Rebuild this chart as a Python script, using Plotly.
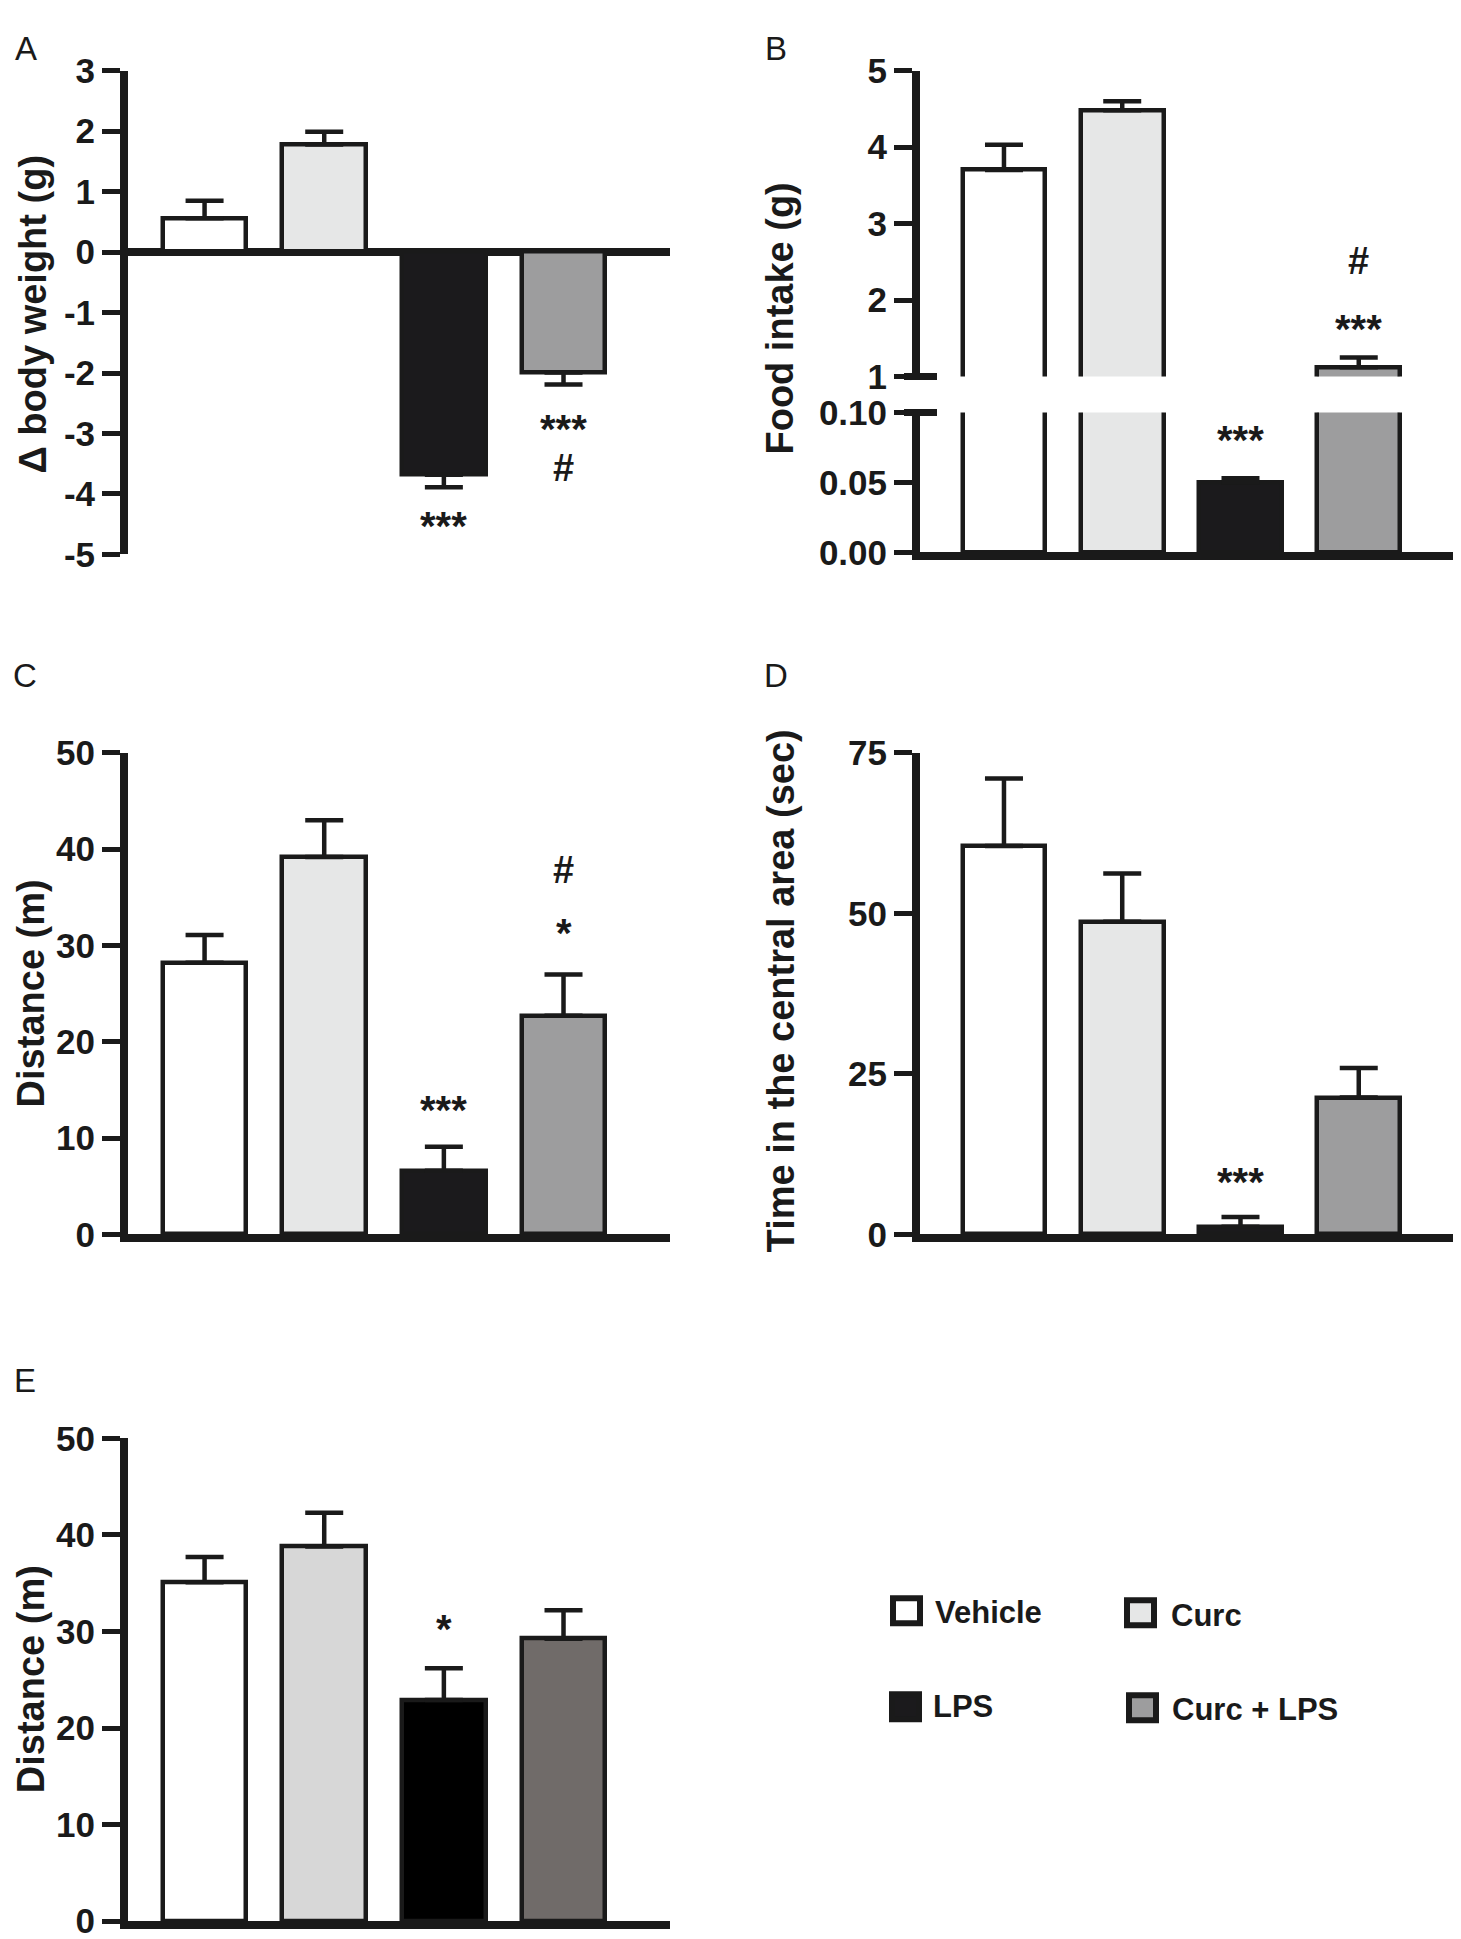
import plotly.graph_objects as go

# groups and values (mean, error bar = SEM)
groups = ["Vehicle", "Curc", "LPS", "Curc + LPS"]

weight_mean = [0.56, 1.78, -3.68, -1.99]
weight_sem = [0.29, 0.21, 0.21, 0.20]
weight_ticks = [-5, -4, -3, -2, -1, 0, 1, 2, 3]

food_mean = [3.70, 4.48, 0.050, 1.12]
food_sem = [0.33, 0.12, 0.003, 0.13]

dist_c_mean = [28.2, 39.2, 6.6, 22.7]
dist_c_sem = [2.9, 3.8, 2.5, 4.3]

time_mean = [60.5, 48.7, 1.2, 21.3]
time_sem = [10.5, 7.5, 1.5, 4.6]

dist_e_mean = [35.1, 38.8, 22.9, 29.25]
dist_e_sem = [2.6, 3.5, 3.3, 2.95]

# significance marks: (group index, text)
weight_sig = [(2, "***"), (3, "***"), (3, "#")]
food_sig = [(2, "***"), (3, "***"), (3, "#")]
dist_c_sig = [(2, "***"), (3, "*"), (3, "#")]
time_sig = [(2, "***")]
dist_e_sig = [(2, "*")]

W, H = 1461, 1939
INK = "#1a1a1a"
colors_ad = ["#ffffff", "#e6e7e7", "#1b1a1c", "#9d9d9e"]
colors_e = ["#ffffff", "#d7d7d7", "#000000", "#706b69"]
TICK_FONT = "Liberation Sans Narrow, Arial Narrow, Liberation Sans, Arial"
TEXT_FONT = "Liberation Sans, Arial"


def fx(px):
    return px / W


def fy(py):
    # the page shot comes out a little squeezed and pushed down; undo that
    py = 1.0203 * py - 30
    return 1 - py / H


def bar(mean, sem, colors, xa, ya):
    up = [s if m >= 0 else 0 for m, s in zip(mean, sem)]
    down = [0 if m >= 0 else s for m, s in zip(mean, sem)]
    return go.Bar(
        x=groups, y=mean, width=0.7, xaxis=xa, yaxis=ya,
        marker=dict(color=colors, line=dict(color=INK, width=4.5)),
        error_y=dict(type="data", symmetric=False, array=up, arrayminus=down,
                     color=INK, thickness=4.5, width=19),
        showlegend=False, hoverinfo="skip",
    )


fig = go.Figure()
fig.add_trace(bar(weight_mean, weight_sem, colors_ad, "x", "y"))
fig.add_trace(bar(food_mean, food_sem, colors_ad, "x2", "y2"))
fig.add_trace(bar(food_mean, food_sem, colors_ad, "x2", "y3"))
fig.add_trace(bar(dist_c_mean, dist_c_sem, colors_ad, "x3", "y4"))
fig.add_trace(bar(time_mean, time_sem, colors_ad, "x4", "y5"))
fig.add_trace(bar(dist_e_mean, dist_e_sem, colors_e, "x5", "y6"))

ystyle = dict(showline=True, linewidth=8, linecolor=INK, ticks="outside",
              ticklen=18, tickwidth=4.5, tickcolor=INK, showgrid=False,
              zeroline=False, fixedrange=True,
              tickfont=dict(family=TICK_FONT, size=35, color=INK, weight="bold"))
xstyle = dict(showline=True, linewidth=8, linecolor=INK, ticks="",
              showticklabels=False, showgrid=False, zeroline=False,
              fixedrange=True)

left = [fx(120), fx(662)]
right = [fx(912), fx(1456)]

fig.update_layout(
    width=W, height=H, margin=dict(l=0, r=0, t=0, b=0),
    paper_bgcolor="white", plot_bgcolor="white", bargap=0,
    xaxis=dict(xstyle, domain=left, range=[-0.64, 3.89], anchor="y", showline=False),
    yaxis=dict(ystyle, domain=[fy(556), fy(72)], range=[-5, 3], anchor="x",
               tickvals=weight_ticks, ticktext=[str(v) for v in weight_ticks],
               zeroline=True, zerolinewidth=8, zerolinecolor=INK),
    xaxis2=dict(xstyle, domain=right, range=[-0.71, 3.89], anchor="y3"),
    yaxis2=dict(ystyle, domain=[fy(378), fy(72)], range=[1, 5], dtick=1, anchor="x2"),
    yaxis3=dict(ystyle, domain=[fy(554), fy(414)], range=[0, 0.1], dtick=0.05,
                tickformat=".2f", anchor="x2"),
    xaxis3=dict(xstyle, domain=left, range=[-0.64, 3.89], anchor="y4"),
    yaxis4=dict(ystyle, domain=[fy(1236), fy(754.5)], range=[0, 50], dtick=10, anchor="x3"),
    xaxis4=dict(xstyle, domain=right, range=[-0.71, 3.89], anchor="y5"),
    yaxis5=dict(ystyle, domain=[fy(1236), fy(754.5)], range=[0, 75], dtick=25, anchor="x4"),
    xaxis5=dict(xstyle, domain=left, range=[-0.64, 3.89], anchor="y6"),
    yaxis6=dict(ystyle, domain=[fy(1923), fy(1440)], range=[0, 50], dtick=10, anchor="x5"),
)

annotations = []

# panel letters (A and B pinned to the top edge)
for letter, px, py in [("A", 18, None), ("B", 768, None), ("C", 17, 677),
                       ("D", 768, 677), ("E", 17, 1382)]:
    annotations.append(dict(text=letter, x=fx(px), y=1 if py is None else fy(py),
                            xref="paper", yref="paper", showarrow=False,
                            xanchor="center", yanchor="top" if py is None else "middle",
                            font=dict(family=TEXT_FONT, size=33, color=INK)))

# axis titles
for title, px, py in [("Δ body weight (g)", 25, 316), ("Food intake (g)", 772, 320),
                      ("Distance (m)", 23, 995), ("Time in the central area (sec)", 773, 993),
                      ("Distance (m)", 23, 1681)]:
    annotations.append(dict(text=title, x=fx(px), y=fy(py), xref="paper", yref="paper",
                            showarrow=False, textangle=-90, xanchor="center", yanchor="middle",
                            font=dict(family=TEXT_FONT, size=38, color=INK, weight="bold")))


def sig_marks(marks, mean, sem, xa, ya, shifts):
    for (g, txt), s in zip(marks, shifts):
        m = mean[g]
        end = m + sem[g] if m >= 0 else m - sem[g]
        annotations.append(dict(text=txt, x=groups[g], y=end, xref=xa, yref=ya,
                                yshift=s, showarrow=False, xanchor="center",
                                yanchor="middle",
                                font=dict(family=TEXT_FONT, size=40 if "*" in txt else 38,
                                          color=INK, weight="bold")))


sig_marks(weight_sig, weight_mean, weight_sem, "x", "y", [-39, -44, -83])
sig_marks(food_sig[:1], food_mean, food_sem, "x2", "y3", [38])
sig_marks(food_sig[1:], food_mean, food_sem, "x2", "y2", [28, 96])
sig_marks(dist_c_sig, dist_c_mean, dist_c_sem, "x3", "y4", [37, 41, 104])
sig_marks(time_sig, time_mean, time_sem, "x4", "y5", [35])
sig_marks(dist_e_sig, dist_e_mean, dist_e_sem, "x5", "y6", [39])

# legend
shapes = []
legend_items = [(0, 885, 1600, 925, 1614), (1, 1119, 1602, 1161, 1617),
                (2, 884, 1696, 923, 1708), (3, 1121, 1697, 1162, 1711)]
for g, sx, sy, tx, ty in legend_items:
    shapes.append(dict(type="rect", xref="paper", yref="paper",
                       x0=fx(sx), x1=fx(sx + 27), y0=fy(sy + 25), y1=fy(sy),
                       fillcolor=colors_ad[g], line=dict(color=INK, width=6)))
    annotations.append(dict(text=groups[g], x=fx(tx), y=fy(ty), xref="paper", yref="paper",
                            showarrow=False, xanchor="left", yanchor="middle",
                            font=dict(family=TEXT_FONT, size=31, color=INK, weight="bold")))

# axis break marks on panel B
for py in [378, 414]:
    shapes.append(dict(type="line", xref="paper", yref="paper",
                       x0=fx(896), x1=fx(929), y0=fy(py), y1=fy(py),
                       line=dict(color=INK, width=7)))

fig.update_layout(annotations=annotations, shapes=shapes)

fig.write_html("out.html")
